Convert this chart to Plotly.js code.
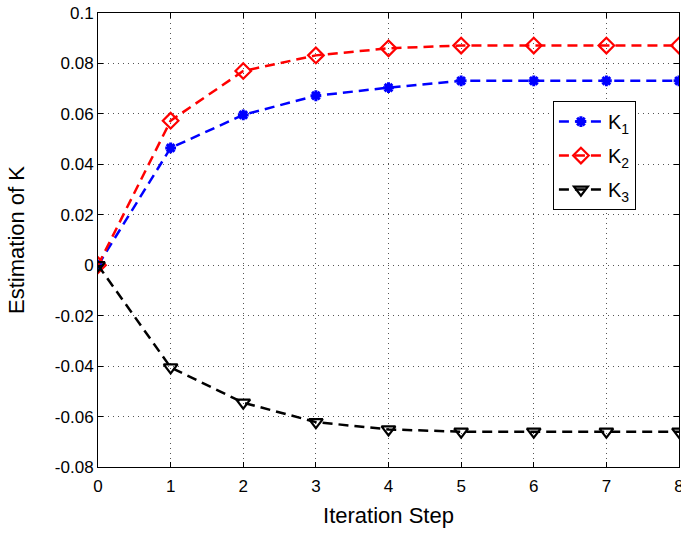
<!DOCTYPE html>
<html>
<head>
<meta charset="utf-8">
<script src="https://cdn.plot.ly/plotly-3.0.1.min.js"></script>
<style>html,body{margin:0;padding:0;background:#fff}</style>
</head>
<body>
<div id="chart" style="width:681px;height:535px"></div>
<script>
const steps = [0, 1, 2, 3, 4, 5, 6, 7, 8];
const k1 = [0, 0.0465, 0.0596, 0.0672, 0.0704, 0.0731, 0.0731, 0.0731, 0.0731];
const k2 = [0, 0.0573, 0.0770, 0.0832, 0.0860, 0.0871, 0.0871, 0.0871, 0.0871];
const k3 = [0, -0.0405, -0.0545, -0.0622, -0.0651, -0.0660, -0.0660, -0.0660, -0.0660];
const names = ['K<sub>1</sub>', 'K<sub>2</sub>', 'K<sub>3</sub>'];
const xTicks = [0, 1, 2, 3, 4, 5, 6, 7, 8];
const yTicks = [-0.08, -0.06, -0.04, -0.02, 0, 0.02, 0.04, 0.06, 0.08, 0.1];
const yTickText = ['-0.08', '-0.06', '-0.04', '-0.02', '0', '0.02', '0.04', '0.06', '0.08', '0.1'];

const FONT = 'Liberation Sans, Arial, sans-serif';
const DASH = '10px,6px';

const traces = [
  {x: steps, y: k1, name: names[0], legendgroup: 'a', mode: 'lines+markers',
   line: {color: '#0000ff', width: 2.5, dash: DASH},
   marker: {symbol: 'asterisk-open', size: 9, color: '#0000ff', line: {color: '#0000ff', width: 3}}},
  {x: steps, y: k2, name: names[1], legendgroup: 'b', mode: 'lines+markers',
   line: {color: '#ff0000', width: 2.5, dash: DASH},
   marker: {symbol: 'diamond-open', size: 12, color: '#ff0000', line: {color: '#ff0000', width: 2.2}}},
  {x: steps, y: k3, name: names[2], legendgroup: 'c', mode: 'lines+markers',
   line: {color: '#000000', width: 2.5, dash: DASH},
   marker: {symbol: 'triangle-down-open', size: 12, color: '#000000', line: {color: '#000000', width: 2.2}}}
];

const axisCommon = {
  showline: true, linecolor: '#000', linewidth: 1, mirror: 'ticks',
  ticks: 'inside', ticklen: 5, tickcolor: '#000',
  showgrid: true, gridcolor: '#555', griddash: '1px,4px', gridwidth: 1,
  zeroline: false, ticklabeloverflow: 'allow',
  tickfont: {family: FONT, size: 17, color: '#000'}
};

const layout = {
  width: 681, height: 535,
  margin: {l: 98, r: 2, t: 13, b: 68},
  paper_bgcolor: '#fff', plot_bgcolor: '#fff',
  showlegend: true,
  font: {family: FONT, color: '#000'},
  xaxis: Object.assign({}, axisCommon, {
    range: [0, 8], tickvals: xTicks, ticktext: xTicks.map(String),
    ticklabelstandoff: 4,
    title: {text: 'Iteration Step', font: {family: FONT, size: 22, color: '#000'}, standoff: 12}
  }),
  yaxis: Object.assign({}, axisCommon, {
    range: [-0.08, 0.1], tickvals: yTicks, ticktext: yTickText,
    title: {text: 'Estimation of K', font: {family: FONT, size: 22, color: '#000'}, standoff: 24}
  }),
  legend: {
    x: 0.783, y: 0.806, xanchor: 'left', yanchor: 'top',
    bgcolor: '#fff', bordercolor: '#000', borderwidth: 1,
    font: {family: FONT, size: 20, color: '#000'},
    traceorder: 'grouped', tracegroupgap: 5,
    itemwidth: 44
  }
};

Plotly.newPlot('chart', traces, layout, {displayModeBar: false, staticPlot: true});
</script>
</body>
</html>
